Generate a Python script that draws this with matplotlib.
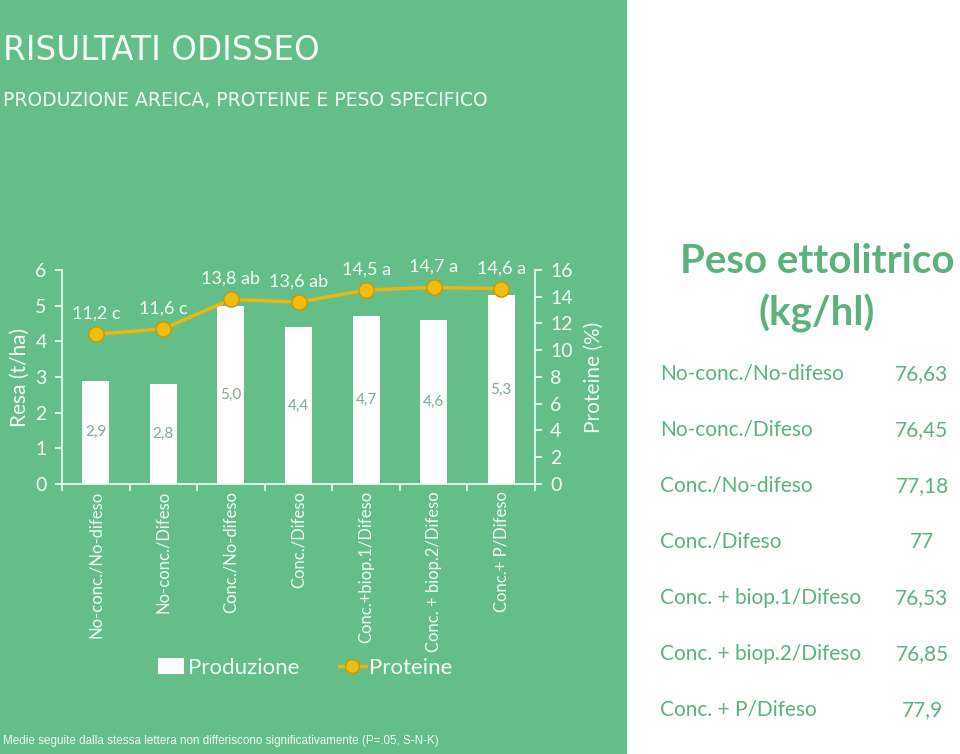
import matplotlib.pyplot as plt
from matplotlib.patches import Rectangle, Patch
from matplotlib.lines import Line2D
import numpy as np

# dati
categorie = ['No-conc./No-difeso', 'No-conc./Difeso', 'Conc./No-difeso', 'Conc./Difeso',
             'Conc.+biop.1/Difeso', 'Conc. + biop.2/Difeso', 'Conc.+ P/Difeso']
produzione = [2.9, 2.8, 5.0, 4.4, 4.7, 4.6, 5.3]
proteine = [11.2, 11.6, 13.8, 13.6, 14.5, 14.7, 14.6]
lettere = ['c', 'c', 'ab', 'ab', 'a', 'a', 'a']
peso_nomi = ['No-conc./No-difeso', 'No-conc./Difeso', 'Conc./No-difeso', 'Conc./Difeso',
             'Conc. + biop.1/Difeso', 'Conc. + biop.2/Difeso', 'Conc. + P/Difeso']
peso_valori = ['76,63', '76,45', '77,18', '77', '76,53', '76,85', '77,9']

verde = '#63BE88'
verde_testo = '#5CB27E'
bianco = '#F4FAF6'
oro = '#EBB512'
font = ['Lato', 'DejaVu Sans']

fig = plt.figure(figsize=(9.6, 7.54), dpi=100)
fig.patch.set_facecolor(verde)
# pannello bianco a destra
fig.add_artist(Rectangle((627/960, 0), 1, 1, transform=fig.transFigure, facecolor='white', edgecolor='none'))

fig.text(3/960, 1-51/754, 'RISULTATI ODISSEO', color=bianco, fontsize=23.5, family='DejaVu Sans', va='center')
fig.text(3/960, 1-101/754, 'PRODUZIONE AREICA, PROTEINE E PESO SPECIFICO', color=bianco, fontsize=13.5,
         family='DejaVu Sans', va='center')

ax = fig.add_axes([62/960, 1-484/754, (535-62)/960, (484-270)/754])
ax.set_facecolor('none')
x = np.arange(len(categorie))
bars = ax.bar(x, produzione, width=0.4, color='white', zorder=2)
for xi, v in zip(x, produzione):
    ax.text(xi, v/2, ('%.1f' % v).replace('.', ','), ha='center', va='center', color='#7FA991',
            fontsize=11, family=font, zorder=3)
ax.set_ylim(0, 6)
ax.set_xlim(-0.5, len(categorie)-0.5)
ax.set_yticks(range(7))
ax.set_xticks(x)
ax.set_xticklabels(categorie, rotation=90, color=bianco, fontsize=12, family=font)
ax.set_xticks(np.arange(-0.5, len(categorie)), minor=True)
ax.tick_params(axis='x', which='major', length=0, pad=5)
ax.tick_params(axis='x', which='minor', length=5, color=bianco, width=1.2, direction='out')
ax.tick_params(axis='y', colors=bianco, labelsize=14, length=5, width=1.2, pad=6)
for lab in ax.get_yticklabels():
    lab.set_family(font)
for s in ['top', 'right']:
    ax.spines[s].set_visible(False)
for s in ['left', 'bottom']:
    ax.spines[s].set_color(bianco)
    ax.spines[s].set_linewidth(1.2)
ax.set_ylabel('Resa (t/ha)', color=bianco, fontsize=15, family=font, labelpad=4)

ax2 = ax.twinx()
ax2.plot(x, proteine, color=oro, lw=2.5, marker='o', markersize=11, markerfacecolor='#F2BC10',
         markeredgecolor='#C79A00', markeredgewidth=1, zorder=4)
for xi, v, l in zip(x, proteine, lettere):
    ax2.annotate(('%.1f' % v).replace('.', ',') + ' ' + l, (xi, v), xytext=(0, 9),
                 textcoords='offset points', ha='center', va='bottom', color=bianco, fontsize=13, family=font)
ax2.set_ylim(0, 16)
ax2.set_yticks(range(0, 17, 2))
ax2.tick_params(axis='y', colors=bianco, labelsize=14, length=5, width=1.2, pad=6)
for lab in ax2.get_yticklabels():
    lab.set_family(font)
for s in ['top', 'left', 'bottom']:
    ax2.spines[s].set_visible(False)
ax2.spines['right'].set_color(bianco)
ax2.spines['right'].set_linewidth(1.2)
ax2.set_ylabel('Proteine (%)', color=bianco, fontsize=15, family=font, labelpad=8)

handles = [Patch(facecolor='white', edgecolor='none'),
           Line2D([], [], color=oro, lw=2.5, marker='o', markersize=10, markerfacecolor='#F2BC10',
                  markeredgecolor='#C79A00')]
leg = fig.legend(handles, ['Produzione', 'Proteine'], loc='center', bbox_to_anchor=(305/960, 1-668/754),
                 ncol=2, frameon=False, prop={'family': font, 'size': 16}, handlelength=1.2,
                 handletextpad=0.15, columnspacing=1.8)
for t in leg.get_texts():
    t.set_color(bianco)

fig.text(3/960, 1-741/754, 'Medie seguite dalla stessa lettera non differiscono significativamente (P=.05, S-N-K)',
         color=bianco, fontsize=8.4, family=['Liberation Sans Narrow', 'Liberation Sans'], va='center')

# peso ettolitrico
fig.text(817/960, 1-262/754, 'Peso ettolitrico', color=verde_testo, fontsize=29, fontweight='bold',
         family=font, ha='center', va='center')
fig.text(817/960, 1-313/754, '(kg/hl)', color=verde_testo, fontsize=29, fontweight='bold',
         family=font, ha='center', va='center')
for i, (n, v) in enumerate(zip(peso_nomi, peso_valori)):
    y = 1 - (374 + 56*i)/754
    fig.text(660/960, y, n, color=verde_testo, fontsize=15, family=font, va='center')
    fig.text(922/960, y, v, color=verde_testo, fontsize=15, family=font, va='center', ha='center')

fig.savefig('out.png', dpi=100, facecolor=fig.get_facecolor())
